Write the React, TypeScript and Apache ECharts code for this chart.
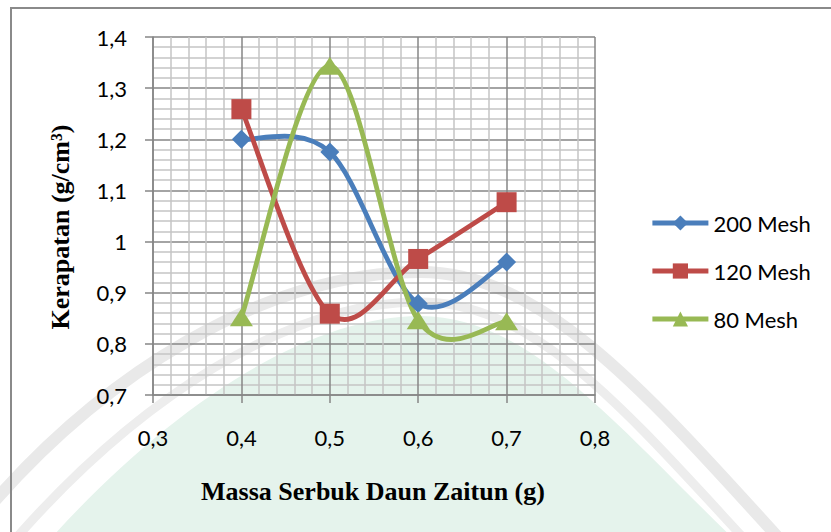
import React, { useEffect, useRef } from "react";
import * as echarts from "echarts";

const massa = [0.4, 0.5, 0.6, 0.7];
const mesh200 = [1.2, 1.175, 0.879, 0.96];
const mesh120 = [1.259, 0.859, 0.966, 1.077];
const mesh80 = [0.852, 1.344, 0.846, 0.844];
const seriesNames = ["200 Mesh", "120 Mesh", "80 Mesh"];
const seriesColors = ["#4A7EBB", "#BE4B48", "#98B954"];

echarts.graphic.registerShape(
  "wmBandOuter",
  echarts.graphic.extendPath("M -30 530 C 100 370 270 272 420 272 C 540 272 640 385 785 545", {})
);
echarts.graphic.registerShape(
  "wmBandInner",
  echarts.graphic.extendPath("M 10 545 C 140 395 290 302 420 302 C 535 302 625 410 750 545", {})
);
echarts.graphic.registerShape(
  "wmFill",
  echarts.graphic.extendPath("M 45 545 C 165 410 305 316 420 316 C 530 316 615 425 740 545 Z", {})
);

const fmt = (v: number) => String(Math.round(v * 10) / 10).replace(".", ",");

export default function App() {
  const ref = useRef<HTMLDivElement>(null);
  useEffect(() => {
    if (!ref.current) return;
    const chart = echarts.init(ref.current, null, { renderer: "svg" });

    const curve = (name: string, vals: number[], color: string) => ({
      name: name + " kurva",
      type: "custom",
      coordinateSystem: "cartesian2d",
      data: massa.map((x, i) => [x, vals[i]]),
      encode: { x: 0, y: 1 },
      z: 3,
      silent: true,
      renderItem: (params: any, api: any) => {
        if (params.dataIndex !== 0) return null;
        const pts = massa.map((x, i) => api.coord([x, vals[i]]));
        const n = pts.length;
        const children: any[] = [];
        for (let i = 0; i < n - 1; i++) {
          const p0 = pts[Math.max(i - 1, 0)];
          const p1 = pts[i];
          const p2 = pts[i + 1];
          const p3 = pts[Math.min(i + 2, n - 1)];
          children.push({
            type: "bezierCurve",
            shape: {
              x1: p1[0],
              y1: p1[1],
              cpx1: p1[0] + (p2[0] - p0[0]) / 6,
              cpy1: p1[1] + (p2[1] - p0[1]) / 6,
              cpx2: p2[0] - (p3[0] - p1[0]) / 6,
              cpy2: p2[1] - (p3[1] - p1[1]) / 6,
              x2: p2[0],
              y2: p2[1],
            },
            style: { stroke: color, lineWidth: 4.8, fill: "none", lineCap: "round" },
          });
        }
        return { type: "group", children };
      },
    });

    const marks = (name: string, vals: number[], color: string, symbol: string, size: any) => ({
      name,
      type: "line",
      data: massa.map((x, i) => [x, vals[i]]),
      symbol,
      symbolSize: size,
      lineStyle: { width: 0, color },
      itemStyle: { color },
      z: 5,
    });

    chart.setOption({
      animation: false,
      backgroundColor: "#ffffff",
      textStyle: { fontFamily: "Lato" },
      graphic: {
        elements: [
          { type: "wmFill", x: 0, y: 0, z: -20, silent: true, style: { fill: "#e5f3ec", stroke: "none" } },
          { type: "wmBandOuter", x: 0, y: 0, z: -19, silent: true, style: { fill: "none", stroke: "#e9e9e9", lineWidth: 12 } },
          { type: "wmBandInner", x: 0, y: 0, z: -19, silent: true, style: { fill: "none", stroke: "#ededed", lineWidth: 9 } },
          {
            type: "rect",
            z: 10,
            silent: true,
            shape: { x: 11, y: 8, width: 900, height: 600 },
            style: { fill: "none", stroke: "#8a8a8a", lineWidth: 2 },
          },
          {
            type: "text",
            x: 60,
            y: 227,
            rotation: Math.PI / 2,
            z: 10,
            style: {
              text: "Kerapatan (g/cm³)",
              font: "bold 26px 'Liberation Serif', 'Times New Roman', serif",
              fill: "#000",
              align: "center",
              verticalAlign: "middle",
            },
          },
          {
            type: "text",
            x: 373,
            y: 491,
            z: 10,
            style: {
              text: "Massa Serbuk Daun Zaitun (g)",
              font: "bold 26px 'Liberation Serif', 'Times New Roman', serif",
              fill: "#000",
              align: "center",
              verticalAlign: "middle",
            },
          },
        ],
      },
      grid: { left: 153, right: 236, top: 37, bottom: 137, containLabel: false },
      xAxis: {
        type: "value",
        min: 0.3,
        max: 0.8,
        interval: 0.1,
        axisLine: { show: true, onZero: false, lineStyle: { color: "#868686", width: 1.5 } },
        axisTick: { show: true, length: 8, lineStyle: { color: "#868686", width: 1.5 } },
        axisLabel: { formatter: fmt, fontSize: 22, color: "#000", margin: 31, fontFamily: "Lato" },
        splitLine: { show: true, lineStyle: { color: "#868686", width: 1.5 } },
        minorTick: { show: false, splitNumber: 5 },
        minorSplitLine: { show: true, lineStyle: { color: "#c4c4c4", width: 1.5 } },
      },
      yAxis: {
        type: "value",
        min: 0.7,
        max: 1.4,
        interval: 0.1,
        axisLine: { show: true, onZero: false, lineStyle: { color: "#868686", width: 1.5 } },
        axisTick: { show: true, length: 8, lineStyle: { color: "#868686", width: 1.5 } },
        axisLabel: { formatter: fmt, fontSize: 22, color: "#000", margin: 26, fontFamily: "Lato" },
        splitLine: { show: true, lineStyle: { color: "#868686", width: 1.5 } },
        minorTick: { show: false, splitNumber: 5 },
        minorSplitLine: { show: true, lineStyle: { color: "#c4c4c4", width: 1.5 } },
      },
      legend: {
        orient: "vertical",
        left: 645,
        top: 206,
        itemWidth: 56,
        itemHeight: 19,
        itemGap: 24,
        lineStyle: { width: 4.8 },
        textStyle: { fontSize: 22, color: "#000", fontFamily: "Lato", lineHeight: 24 },
        data: seriesNames,
      },
      series: [
        curve(seriesNames[0], mesh200, seriesColors[0]),
        curve(seriesNames[1], mesh120, seriesColors[1]),
        curve(seriesNames[2], mesh80, seriesColors[2]),
        marks(seriesNames[0], mesh200, seriesColors[0], "diamond", 19),
        marks(seriesNames[1], mesh120, seriesColors[1], "rect", 20),
        marks(seriesNames[2], mesh80, seriesColors[2], "triangle", [23, 18]),
      ],
    });
    return () => chart.dispose();
  }, []);
  return <div ref={ref} style={{ position: "fixed", left: 0, top: 0, width: 831, height: 532 }} />;
}
